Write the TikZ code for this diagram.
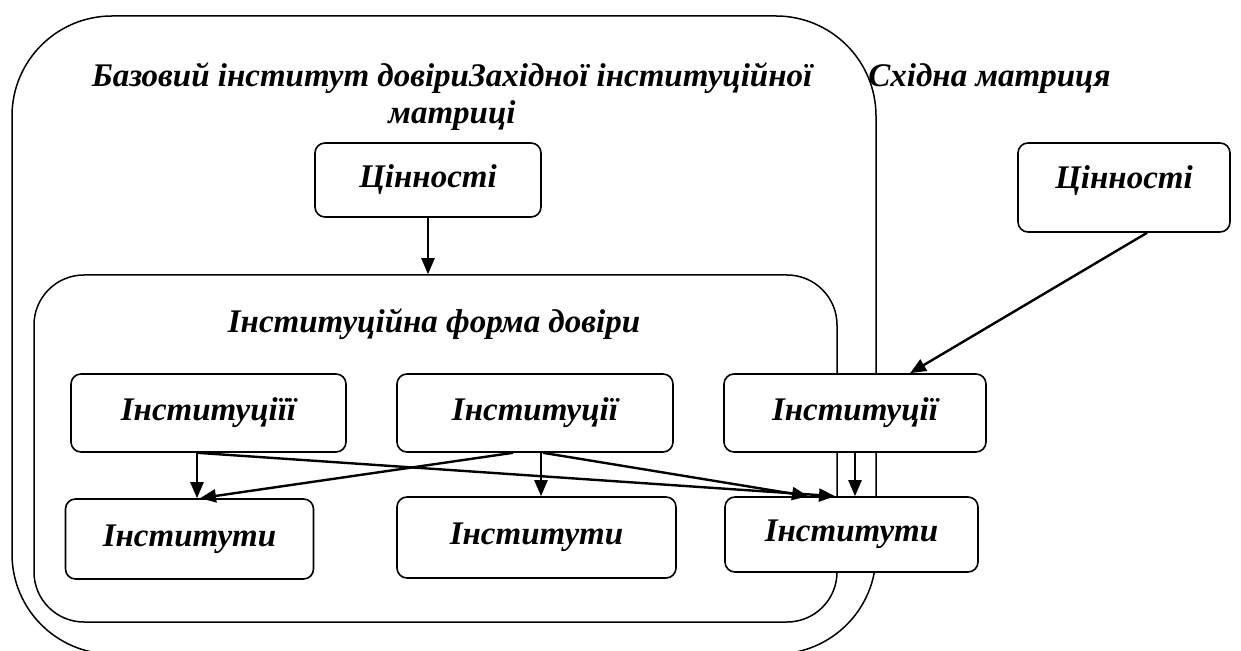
\documentclass[tikz,border=0pt]{standalone}
\usepackage{fontspec}
\setmainfont{Liberation Serif}
\usetikzlibrary{arrows.meta}
\begin{document}
\begin{tikzpicture}
[x=0.5pt,y=-0.5pt,
 every node/.style={font=\fontsize{16.5}{18.5}\selectfont\bfseries\itshape,inner sep=0pt},
 ramka/.style={draw,line width=0.75pt},
 blok/.style={draw,fill=white,rounded corners=5pt,line width=0.8pt},
 strilka/.style={-{Triangle[length=8pt,width=6.5pt]},line width=1.2pt}]
    \useasboundingbox (0,0) rectangle (1241,651);
    \node[ramka,rounded corners=50pt,minimum width=432pt,minimum height=319pt] (baza) at (444,335) {};
    \node[align=center,anchor=base] (nazva) at (452,124) {Базовий інститут довіриЗахідної інституційної\\матриці};
    \node[anchor=base west] (shid) at (868,87) {Східна матриця};
    \node[blok,minimum width=113pt,minimum height=37pt] (cinL) at (428,180) {Цінності};
    \node[blok,minimum width=106pt,minimum height=44.5pt,text height=15pt,text depth=14pt] (cinR) at (1124,187.5) {Цінності};
    \node[ramka,rounded corners=25pt,minimum width=401.5pt,minimum height=173.5pt] (forma) at (435.5,448.5) {};
    \node[anchor=base] (formaT) at (434,333) {Інституційна форма довіри};
    \node[blok,minimum width=137.5pt,minimum height=39pt] (instc1) at (208.5,413) {Інституціїї};
    \node[blok,minimum width=138pt,minimum height=39pt] (instc2) at (535,413) {Інституції};
    \node[blok,minimum width=131pt,minimum height=39pt] (instc3) at (855,413) {Інституції};
    \node[blok,minimum width=124pt,minimum height=40pt] (inst1) at (189.5,539) {Інститути};
    \node[blok,minimum width=139.5pt,minimum height=40.5pt] (inst2) at (536.5,537.5) {Інститути};
    \node[blok,minimum width=126.5pt,minimum height=37.5pt] (inst3) at (851.5,534.5) {Інститути};
    \draw[strilka] (cinL.south) -- (cinL.south |- forma.north);
    \draw[strilka] ([xshift=11.5pt]cinR.south) -- ([xshift=27.5pt]instc3.north);
    \draw[strilka] ([xshift=-5.75pt]instc1.south) -- ([xshift=-5.75pt]instc1.south |- inst1.north);
    \draw[strilka] ([xshift=-11pt]instc2.south) -- ([xshift=5.25pt]inst1.north);
    \draw[strilka] ([xshift=3pt]instc2.south) -- ([xshift=3pt]instc2.south |- inst2.north);
    \draw[strilka] ([xshift=-5.75pt]instc1.south) -- ([xshift=-8.25pt]inst3.north);
    \draw[strilka] ([xshift=4pt]instc2.south) -- ([xshift=-21.75pt]inst3.north);
    \draw[strilka] (instc3.south) -- (instc3.south |- inst3.north);
\end{tikzpicture}
\end{document}
